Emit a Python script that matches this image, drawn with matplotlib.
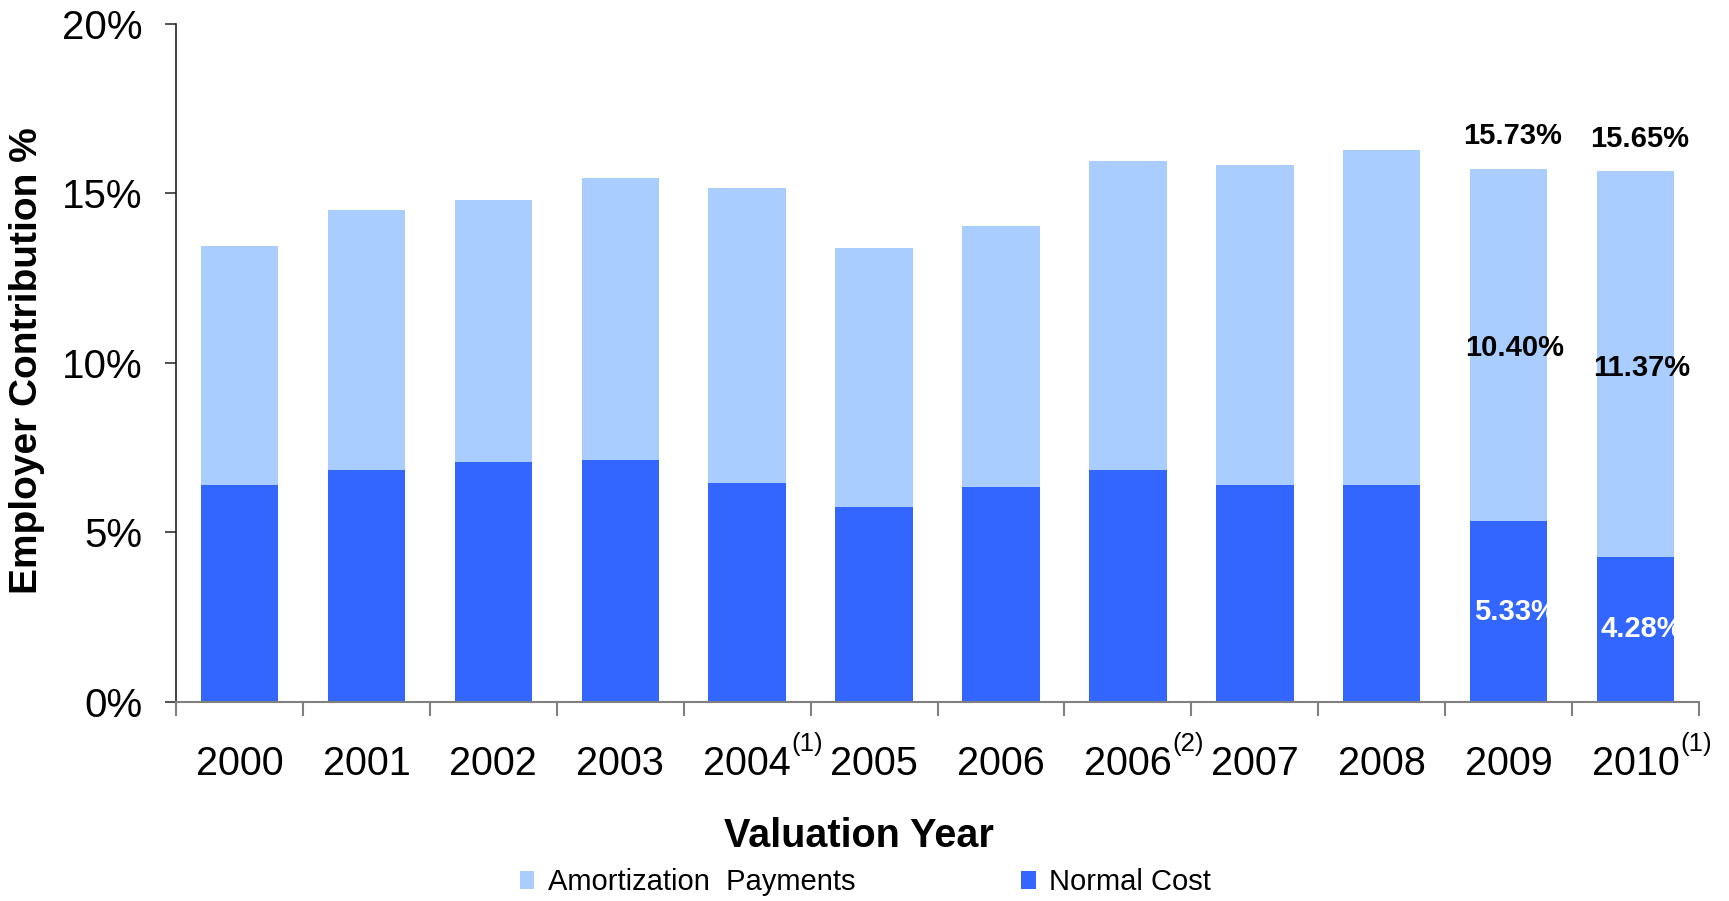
import matplotlib
matplotlib.use('Agg')
import matplotlib.pyplot as plt
import numpy as np

plt.rcParams['font.family'] = ['Liberation Sans', 'DejaVu Sans']

# Data (percent of payroll)
years = ['2000', '2001', '2002', '2003', '2004', '2005', '2006',
         '2006', '2007', '2008', '2009', '2010']
footnotes = ['', '', '', '', '(1)', '', '', '(2)', '', '', '', '(1)']
normal_cost = [6.40, 6.85, 7.08, 7.14, 6.46, 5.75, 6.33, 6.85, 6.40, 6.40, 5.33, 4.28]
totals = [13.44, 14.51, 14.81, 15.45, 15.16, 13.38, 14.03, 15.97, 15.84, 16.27, 15.73, 15.65]
amortization = [round(t - n, 2) for t, n in zip(totals, normal_cost)]
amortization[10] = 10.40
amortization[11] = 11.37
labelled = [10, 11]  # bars that carry value labels

light_blue = '#A9CDFF'
dark_blue = '#3366FF'

fig = plt.figure(figsize=(17.29, 9.01), dpi=100)
ax = fig.add_axes([0.1018, 0.2209, 0.8809, 0.7525])

x = np.arange(len(years))
width = 0.61
b1 = ax.bar(x, normal_cost, width, color=dark_blue, label='Normal Cost', zorder=2)
b2 = ax.bar(x, amortization, width, bottom=normal_cost, color=light_blue,
            label='Amortization  Payments', zorder=2)

# value labels on the last two bars
for i in labelled:
    n = normal_cost[i]
    a = amortization[i]
    ax.text(i + 0.05, n / 2, f'{n:.2f}%', ha='center', va='center',
            color='white', fontsize=21, fontweight='bold', zorder=3)
    ax.text(i + 0.05, n + a / 2 - 0.1, f'{a:.2f}%', ha='center', va='center',
            color='black', fontsize=21, fontweight='bold', zorder=3)
    ax.text(i + 0.03, n + a + 0.55, f'{n + a:.2f}%', ha='center', va='bottom',
            color='black', fontsize=21, fontweight='bold', zorder=3)

# axes styling
ax.set_xlim(-0.5, len(years) - 0.5)
ax.set_ylim(0, 20)
ax.set_yticks([0, 5, 10, 15, 20])
ax.set_yticklabels(['0%', '5%', '10%', '15%', '20%'])
ax.tick_params(axis='y', which='major', labelsize=29, length=8, width=1.2,
               color='#333333', pad=16, direction='out')

ax.set_xticks(x)
ax.set_xticklabels(years)
ax.set_xticks(np.arange(-0.5, len(years)), minor=True)
ax.tick_params(axis='x', which='major', labelsize=28.5, length=0, pad=31)
ax.tick_params(axis='x', which='minor', length=10, width=1.5, color='#808080')

for i, f in enumerate(footnotes):
    if f:
        ax.annotate(f, xy=(i, 0), xycoords=('data', 'axes fraction'),
                    xytext=(32, -30), textcoords='offset points',
                    ha='left', va='center', fontsize=18.5)

for s in ['top', 'right']:
    ax.spines[s].set_visible(False)
ax.spines['left'].set_color('#222222')
ax.spines['left'].set_linewidth(1.2)
ax.spines['bottom'].set_color('#808080')
ax.spines['bottom'].set_linewidth(1.5)

fig.text(27 / 1729, 0.6, 'Employer Contribution %', rotation=90,
         ha='center', va='center', fontsize=28, fontweight='bold')
fig.text(0.4968, 0.0721, 'Valuation Year', ha='center', va='center',
         fontsize=28.5, fontweight='bold')

fig.legend(handles=[b2, b1], loc='center', bbox_to_anchor=(0.5005, 0.021),
           ncol=2, frameon=False, fontsize=21, handlelength=0.5,
           handleheight=0.6, handletextpad=0.45, columnspacing=5.7)

fig.savefig('out.png', dpi=100)
